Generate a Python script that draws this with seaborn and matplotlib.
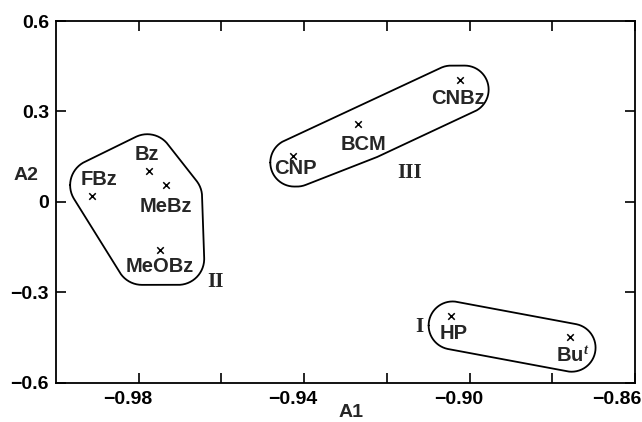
import numpy as np
import matplotlib
matplotlib.use("Agg")
import matplotlib.pyplot as plt
import matplotlib.transforms as mtransforms
import seaborn as sns

# data
names = ["FBz", "Bz", "MeBz", "MeOBz", "CNP", "BCM", "CNBz", "HP", "Bu$^t$"]
a1 = [-0.9912, -0.9776, -0.9735, -0.9749, -0.9427, -0.9270, -0.9024, -0.9046, -0.8758]
a2 = [0.019, 0.102, 0.055, -0.159, 0.152, 0.258, 0.406, -0.378, -0.448]
groups = ["II", "II", "II", "II", "III", "III", "III", "I", "I"]

xticks = [-0.98, -0.94, -0.90, -0.86]
xtick_labels = ["\u22120.98", "\u22120.94", "\u22120.90", "\u22120.86"]
xticks_minor = [-0.96, -0.92, -0.88]
yticks = [0.6, 0.3, 0.0, -0.3, -0.6]
ytick_labels = ["0.6", "0.3", "0", "\u22120.3", "\u22120.6"]

# label offsets (points, to text baseline)
label_offsets = {
    "FBz": (4.5, 7.9), "Bz": (-1.6, 7.9), "MeBz": (0.2, -19.2),
    "MeOBz": (0.2, -16.1), "CNP": (1.9, -13.0), "BCM": (4.3, -18.7),
    "CNBz": (-1.3, -17.3), "HP": (2.5, -16.8), "Bu$^t$": (2.3, -18.2),
}
group_anchor = {"I": ("HP", (-22.8, -11.5)),
                "II": ("MeOBz", (39.8, -26.6)),
                "III": ("BCM", (37.2, -38.9))}
# outline style per group: circle radius and side room (pixels)
outline_style = {"I": (24, 4), "II": (26, 10), "III": (24, 4)}

LABEL_FS = 14.5
WEIGHT = "bold"

sns.set_style("ticks")
plt.rcParams['font.family'] = ['Liberation Sans', 'DejaVu Sans']
plt.rcParams['font.weight'] = WEIGHT
plt.rcParams['axes.labelweight'] = WEIGHT
plt.rcParams['mathtext.fontset'] = 'custom'
plt.rcParams['mathtext.rm'] = 'Liberation Sans:bold'
plt.rcParams['mathtext.it'] = 'Liberation Serif:italic:bold'


def convex_hull(p):
    p = p[np.lexsort((p[:, 1], p[:, 0]))]

    def half(points):
        h = []
        for q in points:
            while len(h) >= 2:
                a, b = h[-2], h[-1]
                cr = (b[0] - a[0]) * (q[1] - a[1]) - (b[1] - a[1]) * (q[0] - a[0])
                if cr <= 0:
                    h.pop()
                else:
                    break
            h.append(q)
        return h

    lower = half(p)
    upper = half(p[::-1])
    return np.array(lower[:-1] + upper[:-1])


def circles_hull(centers, r, n=180):
    # convex hull round a set of equal circles
    ang = np.linspace(0, 2 * np.pi, n, endpoint=False)
    unit = np.column_stack([np.cos(ang), np.sin(ang)])
    cloud = np.vstack([c + unit * r for c in centers])
    return convex_hull(cloud)


fig = plt.figure(figsize=(6.42, 4.22), dpi=100)
ax = fig.add_axes([0.0872, 0.0931, 0.9019, 0.857])

sns.scatterplot(x=a1, y=a2, marker="x", color="black", s=22, linewidth=1.1, ax=ax, zorder=3)

ax.set_xlim(-1.0, -0.86)
ax.set_ylim(-0.6, 0.6)
ax.set_xticks(xticks)
ax.set_xticklabels(xtick_labels)
ax.set_xticks(xticks_minor, minor=True)
ax.set_yticks(yticks)
ax.set_yticklabels(ytick_labels)
ax.tick_params(which="both", direction="in", top=True, right=True, length=7, width=1.2,
               labelsize=14, colors="black")
ax.tick_params(axis="x", pad=6)
ax.tick_params(axis="y", pad=5)
for sp in ax.spines.values():
    sp.set_linewidth(1.3)
    sp.set_color("black")

# nudge x tick labels like the printed figure
xlabels = ax.get_xticklabels()
for i, lab in enumerate(xlabels):
    if i == len(xlabels) - 1:
        lab.set_ha("right")
        dx = 5 / 72
    else:
        dx = -8 / 72
    lab.set_transform(lab.get_transform() + mtransforms.ScaledTranslation(dx, 0, fig.dpi_scale_trans))

ax.set_xlabel("A1", fontsize=14, va="center", fontweight=WEIGHT)
ax.set_ylabel("A2", fontsize=14, rotation=0, va="center", ha="center", fontweight=WEIGHT)
ax.xaxis.set_label_coords(0.509, -0.081)
ax.yaxis.set_label_coords(-0.052, 0.574)

texts = {}
for n, x, y in zip(names, a1, a2):
    dx, dy = label_offsets[n]
    texts[n] = ax.annotate(n, (x, y), xytext=(dx, dy), textcoords="offset points",
                           ha="center", va="baseline", fontsize=LABEL_FS)

for g, (member, (dx, dy)) in group_anchor.items():
    i = names.index(member)
    ax.annotate(g, (a1[i], a2[i]), xytext=(dx, dy), textcoords="offset points",
                ha="center", va="baseline", fontsize=15, fontweight="bold",
                family="Liberation Serif")

# outlines round each group: hull of equal circles sitting between each
# mark and its label, stretched over the label width
fig.canvas.draw()
renderer = fig.canvas.get_renderer()
px = fig.dpi / 72
cap = 0.72 * LABEL_FS * px
w = 0.6
for g in ["I", "II", "III"]:
    R, side_pad = outline_style[g]
    centers = []
    for n, x, y, gg in zip(names, a1, a2, groups):
        if gg != g:
            continue
        mx, my = ax.transData.transform((x, y))
        bb = texts[n].get_window_extent(renderer)
        xc = (bb.x0 + bb.x1) / 2
        yc = my + label_offsets[n][1] * px + cap / 2
        ax_, ay_ = mx + w * (xc - mx), my + w * (yc - my)
        x0, x1 = bb.x0 - side_pad + R, bb.x1 + side_pad - R
        if x0 > x1:
            x0 = x1 = ax_
        centers += [(ax_, ay_), (x0, ay_), (x1, ay_)]
    poly = circles_hull(np.array(centers, dtype=float), R)
    poly = np.vstack([poly, poly[:1]])
    dpoly = ax.transData.inverted().transform(poly)
    ax.plot(dpoly[:, 0], dpoly[:, 1], color="black", lw=1.3)

fig.savefig("out.png", dpi=100)
